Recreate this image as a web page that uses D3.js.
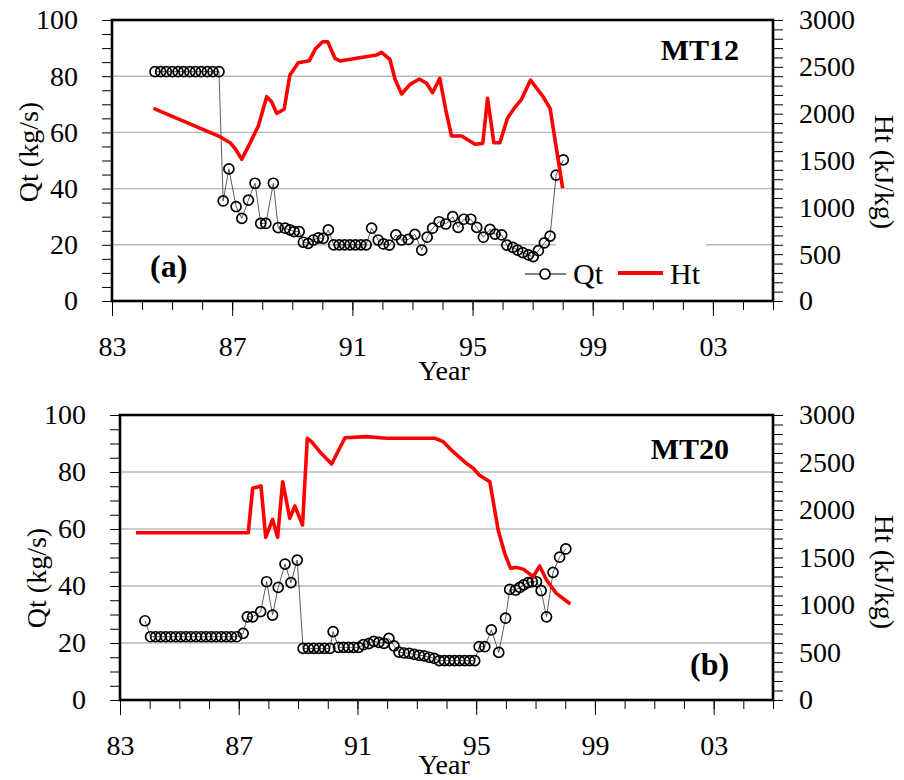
<!DOCTYPE html>
<html>
<head>
<meta charset="utf-8">
<script src="https://cdn.jsdelivr.net/npm/d3@7/dist/d3.min.js"></script>
<style>
  body { margin: 0; background: #fff; }
  svg { display: block; font-family: "Liberation Serif", "Times New Roman", serif; }
</style>
</head>
<body>
<div id="chart"></div>
<script>
// ---- data ----
const yearTicks = [83, 87, 91, 95, 99, 103];

// panel (a) MT12
const qtAYear = [84.43, 84.62, 84.81, 85.01, 85.20, 85.39, 85.59, 85.78, 85.97, 86.17, 86.36, 86.56,
  86.70, 86.89, 87.13, 87.32, 87.54, 87.76, 87.95, 88.12, 88.37, 88.53, 88.76, 88.92, 89.06, 89.23,
  89.37, 89.53, 89.70, 89.87, 90.03, 90.20,
  90.38, 90.56, 90.74, 90.92, 91.10, 91.28, 91.46,
  91.64, 91.86, 92.03, 92.23, 92.45, 92.64, 92.86, 93.08, 93.31, 93.49, 93.67, 93.89, 94.11, 94.34,
  94.52, 94.71, 94.94, 95.14, 95.36, 95.58, 95.75, 95.97, 96.14, 96.34, 96.50, 96.67, 96.86, 97.02,
  97.19, 97.39, 97.58, 97.78, 98.02];
const qtAVal = [81.6, 81.6, 81.6, 81.6, 81.6, 81.6, 81.6, 81.6, 81.6, 81.6, 81.6, 81.6,
  35.6, 47.0, 33.6, 29.4, 35.9, 41.9, 27.6, 27.6, 41.9, 26.1, 25.9, 25.3, 24.7, 24.7,
  20.9, 20.5, 21.7, 22.5, 22.3, 25.3,
  20.0, 20.0, 20.0, 20.0, 20.0, 20.0, 20.0,
  25.9, 21.7, 20.3, 19.9, 23.5, 21.7, 21.9, 23.7, 18.1, 22.7, 25.9, 28.2, 27.4, 30.0,
  26.2, 29.1, 29.1, 26.2, 22.7, 25.5, 23.8, 23.5, 19.9, 19.1, 18.1, 17.2, 16.4, 15.8,
  17.9, 20.7, 23.1, 44.8, 50.2];
const htAYear = [84.38, 86.59, 86.93, 87.09, 87.32, 87.59, 87.87, 88.15, 88.31, 88.48, 88.73, 88.92,
  89.20, 89.57, 89.76, 90.01, 90.18, 90.42, 90.59, 91.14, 91.81, 91.97, 92.25, 92.42, 92.64, 92.92,
  93.23, 93.47, 93.67, 93.91, 94.11, 94.30, 94.64, 95.08, 95.34, 95.50, 95.71, 95.91, 96.16, 96.41,
  96.63, 96.93, 97.35, 97.58, 98.00];
const htAVal = [2057, 1754, 1690, 1630, 1513, 1683, 1868, 2181, 2128, 2004, 2047, 2413,
  2544, 2566, 2687, 2768, 2768, 2591, 2562, 2591, 2626, 2655, 2580, 2367, 2210, 2313,
  2370, 2324, 2224, 2378, 2039, 1762, 1762, 1673, 1683, 2164, 1690, 1690, 1950, 2068,
  2153, 2359, 2181, 2057, 1203];

// panel (b) MT20
const qtBYear = [83.84,
  84.03, 84.20, 84.37, 84.54, 84.71, 84.88, 85.05, 85.22, 85.39, 85.56, 85.73, 85.90, 86.07, 86.24,
  86.41, 86.58, 86.75, 86.93,
  87.15, 87.29, 87.47, 87.74, 87.94, 88.14, 88.33, 88.56, 88.76, 88.97,
  89.17, 89.35, 89.53, 89.71, 89.89, 90.07, 90.18,
  90.36, 90.53, 90.70, 90.87, 91.04,
  91.20, 91.38, 91.55, 91.72, 91.89, 92.06, 92.23, 92.40, 92.57, 92.74, 92.91, 93.08, 93.25, 93.42, 93.59,
  93.76, 93.93, 94.10, 94.27, 94.44, 94.61, 94.78, 94.95,
  95.10, 95.29, 95.51, 95.76, 95.99, 96.13, 96.33, 96.47, 96.60, 96.75, 96.89, 97.03, 97.19,
  97.37, 97.59, 97.81, 98.02];
const qtBVal = [27.8,
  22.2, 22.2, 22.2, 22.2, 22.2, 22.2, 22.2, 22.2, 22.2, 22.2, 22.2, 22.2, 22.2, 22.2,
  22.2, 22.2, 22.2, 22.2,
  23.4, 29.2, 29.2, 31.0, 41.5, 29.8, 39.5, 47.7, 41.2, 49.1,
  18.1, 18.1, 18.1, 18.1, 18.1, 18.1, 24.0,
  18.5, 18.5, 18.5, 18.5, 18.5,
  19.4, 19.8, 20.6, 20.2, 19.9, 21.6, 19.0, 16.8, 16.5, 16.4, 16.0, 15.7, 15.5, 15.0, 14.6,
  13.8, 13.8, 13.8, 13.8, 13.8, 13.8, 13.8, 13.8,
  18.7, 18.7, 24.6, 16.7, 28.7, 38.8, 38.6, 39.5, 40.4, 41.2, 41.5, 41.5, 38.4,
  29.2, 44.8, 50.1, 53.0];
const htBYear = [83.54, 87.32, 87.47, 87.75, 87.91, 88.14, 88.31, 88.48, 88.72, 88.89, 89.15, 89.31,
  89.45, 89.73, 90.13, 90.58, 91.31, 91.98, 93.61, 93.89, 94.22, 94.67, 94.90, 95.10, 95.46, 95.74,
  95.96, 96.16, 96.36, 96.60, 96.92, 97.14, 97.37, 97.70, 98.17];
const htBVal = [1761, 1761, 2228, 2253, 1712, 1902, 1712, 2298, 1912, 2042, 1842, 2755,
  2719, 2614, 2484, 2761, 2772, 2755, 2755, 2719, 2614, 2491, 2439, 2368, 2298, 1789,
  1544, 1386, 1396, 1375, 1298, 1411, 1263, 1123, 1011];

const W = 904, H = 780;
const svg = d3.select("#chart").append("svg").attr("width", W).attr("height", H);

function drawPanel(p) {
  const g = svg.append("g");
  const x = d3.scaleLinear().domain([83, 105]).range([p.left, p.right]);
  const yQ = d3.scaleLinear().domain([0, 100]).range([p.bottom, p.top]);
  const yH = d3.scaleLinear().domain([0, 3000]).range([p.bottom, p.top]);

  // gridlines
  g.selectAll(".grid").data([20, 40, 60, 80]).enter().append("line")
    .attr("x1", p.left).attr("x2", p.right)
    .attr("y1", d => yQ(d)).attr("y2", d => yQ(d))
    .attr("stroke", "#b8b8b8").attr("stroke-width", 1.4);

  // legend background sits under the series
  if (p.legend) {
    g.append("rect").attr("x", 556).attr("y", 240).attr("width", 150).attr("height", 56)
      .attr("fill", "#fff");
  }

  // left axis
  const la = g.append("g").attr("transform", `translate(${p.left - 1},0)`)
    .call(d3.axisLeft(yQ).tickValues(d3.range(0, 101, 5)).tickSize(9).tickPadding(24)
      .tickFormat(d => d % 20 === 0 ? d : ""));
  // right axis
  const ra = g.append("g").attr("transform", `translate(${p.right + 1},0)`)
    .call(d3.axisRight(yH).tickValues(d3.range(0, 3001, 100)).tickSize(9).tickPadding(16)
      .tickFormat(d => d % 500 === 0 ? d : ""));
  // bottom axis: minor then major
  const bm = g.append("g").attr("transform", `translate(0,${p.bottom + 1})`)
    .call(d3.axisBottom(x).tickValues(d3.range(83, 106, 1)).tickSize(8).tickFormat(""));
  const ba = g.append("g").attr("transform", `translate(0,${p.bottom + 1})`)
    .call(d3.axisBottom(x).tickValues(yearTicks).tickSize(14)
      .tickFormat(d => String(d % 100).padStart(2, "0")));
  ba.selectAll("text").attr("y", p.tickLabelY).attr("dy", 0);

  [la, ra, bm, ba].forEach(a => {
    a.select(".domain").remove();
    a.selectAll("line").attr("stroke", "#000").attr("stroke-width", 1);
    a.selectAll("text").attr("fill", "#000").style("font-size", "28px")
      .style("font-family", "'Liberation Serif', 'Times New Roman', serif");
  });

  // Qt series: thin connector + open circles
  const qt = p.qtYear.map((yr, i) => [yr, p.qtVal[i]]);
  g.append("path").datum(qt)
    .attr("d", d3.line().x(d => x(d[0])).y(d => yQ(d[1])))
    .attr("fill", "none").attr("stroke", "#333").attr("stroke-width", 0.8);
  g.selectAll(".qt").data(qt).enter().append("circle")
    .attr("cx", d => x(d[0])).attr("cy", d => yQ(d[1])).attr("r", 5)
    .attr("fill", "none").attr("stroke", "#000").attr("stroke-width", 1.7);

  // Ht series
  const ht = p.htYear.map((yr, i) => [yr, p.htVal[i]]);
  g.append("path").datum(ht)
    .attr("d", d3.line().x(d => x(d[0])).y(d => yH(d[1])))
    .attr("fill", "none").attr("stroke", "#ff0000").attr("stroke-width", 3.6)
    .attr("stroke-linejoin", "round");

  // frame
  g.append("rect").attr("x", p.left).attr("y", p.top)
    .attr("width", p.right - p.left).attr("height", p.bottom - p.top)
    .attr("fill", "none").attr("stroke", "#000").attr("stroke-width", 2.6);

  // titles
  g.append("text").attr("transform", `translate(${p.left - 84},${p.qLabelY}) rotate(-90)`)
    .attr("text-anchor", "middle").attr("dy", "0.35em").style("font-size", "28px").text("Qt (kg/s)");
  g.append("text").attr("transform", `translate(${p.right + 112},${p.hLabelY}) rotate(90)`)
    .attr("text-anchor", "middle").attr("dy", "0.35em").style("font-size", "28px").text("Ht (kJ/kg)");
  g.append("text").attr("x", 444).attr("y", p.yearY).attr("text-anchor", "middle")
    .style("font-size", "28px").text("Year");

  g.append("text").attr("x", p.tagX).attr("y", p.tagY).style("font-size", "32px")
    .style("font-weight", "bold").text(p.tag);
  g.append("text").attr("x", p.nameX).attr("y", p.nameY).attr("text-anchor", "end")
    .style("font-size", "30px").style("font-weight", "bold").text(p.name);

  if (p.legend) {
    const lg = g.append("g");
    lg.append("line").attr("x1", 525).attr("x2", 566).attr("y1", 274).attr("y2", 274)
      .attr("stroke", "#000").attr("stroke-width", 1);
    lg.append("circle").attr("cx", 545).attr("cy", 274).attr("r", 5)
      .attr("fill", "#fff").attr("stroke", "#000").attr("stroke-width", 1.7);
    lg.append("text").attr("x", 573).attr("y", 284).style("font-size", "30px").text("Qt");
    lg.append("line").attr("x1", 618).attr("x2", 663).attr("y1", 273).attr("y2", 273)
      .attr("stroke", "#ff0000").attr("stroke-width", 4);
    lg.append("text").attr("x", 670).attr("y", 284).style("font-size", "30px").text("Ht");
  }
}

drawPanel({
  left: 112, right: 773, top: 20, bottom: 301,
  qtYear: qtAYear, qtVal: qtAVal, htYear: htAYear, htVal: htAVal,
  tickLabelY: 54, yearY: 380, qLabelY: 152, hLabelY: 172,
  tag: "(a)", tagX: 150, tagY: 277, name: "MT12", nameX: 739, nameY: 60, legend: true
});
drawPanel({
  left: 120, right: 773, top: 415, bottom: 700,
  qtYear: qtBYear, qtVal: qtBVal, htYear: htBYear, htVal: htBVal,
  tickLabelY: 54, yearY: 774, qLabelY: 578, hLabelY: 572,
  tag: "(b)", tagX: 690, tagY: 675, name: "MT20", nameX: 729, nameY: 459, legend: false
});
</script>
</body>
</html>
